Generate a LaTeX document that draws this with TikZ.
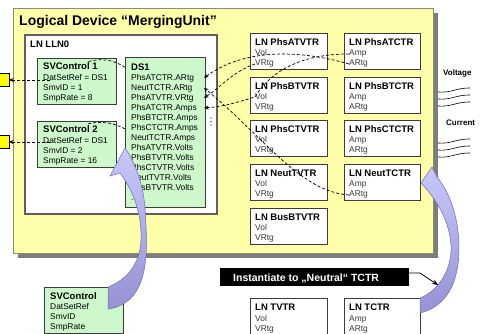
\documentclass[tikz,border=0pt]{standalone}
\usepackage{fontspec}
\setmainfont{Liberation Sans}
\usetikzlibrary{arrows.meta,calc}

\definecolor{devfill}{RGB}{255,255,170}
\definecolor{devedge}{RGB}{140,140,110}
\definecolor{devshadow}{RGB}{125,125,125}
\definecolor{cbgreen}{RGB}{204,248,204}
\definecolor{boxedge}{RGB}{60,60,60}
\definecolor{llnedge}{RGB}{95,95,95}
\definecolor{itemgrey}{RGB}{55,55,55}
\definecolor{lavtop}{RGB}{200,200,252}
\definecolor{lavbot}{RGB}{150,146,212}
\definecolor{lavedge}{RGB}{110,110,175}
\definecolor{sigyellow}{RGB}{255,255,0}

\newcommand\fTitle{\fontsize{14}{16}\selectfont\bfseries}
\newcommand\fHead{\fontsize{9.5}{11}\selectfont\bfseries}
\newcommand\fItem{\fontsize{8.4}{10}\selectfont}
\newcommand\fSmall{\fontsize{8}{9}\selectfont\bfseries}

\tikzset{
  ubox/.style={draw=boxedge, line width=0.9pt, anchor=north west, inner sep=0pt, outer sep=0pt},
  lnbox/.style={ubox, fill=white, minimum height=36pt},
  cbbox/.style={ubox, fill=cbgreen},
  headtxt/.style={anchor=base west, inner sep=0pt, font=\fHead},
  itemtxt/.style={anchor=base west, inner sep=0pt, font=\fItem, text=itemgrey},
  dstxt/.style={anchor=base west, inner sep=0pt, font=\fItem},
  dashconn/.style={draw=black, line width=0.7pt, dash pattern=on 3pt off 2pt},
  tipend/.style={-{Stealth[length=4.5pt,width=4pt]}},
  lavarrow/.style={draw=lavedge, line width=0.5pt, top color=lavtop, bottom color=lavbot},
}

% logical node box: name, x, y, width, title, first attribute, second attribute
\newcommand\lnnode[7]{%
  \node[lnbox, minimum width=#4] (#1) at (#2,#3) {};
  \node[headtxt] (#1-t) at ($(#1.north west)+(5,13)$) {#5};
  \node[itemtxt] (#1-a) at ($(#1.north west)+(5,23)$) {#6};
  \node[itemtxt] (#1-b) at ($(#1.north west)+(5,33)$) {#7};
}

% sampled value control block: name, x, y, title, three attribute lines
\newcommand\svnode[7]{%
  \node[cbbox, minimum width=79pt, minimum height=46pt] (#1) at (#2,#3) {};
  \node[headtxt] (#1-t) at ($(#1.north west)+(6,12)$) {#4};
  \node[dstxt] (#1-a) at ($(#1.north west)+(6,22.5)$) {#5};
  \node[dstxt] (#1-b) at ($(#1.north west)+(6,32.5)$) {#6};
  \node[dstxt] (#1-c) at ($(#1.north west)+(6,42.5)$) {#7};
}

\begin{document}
\begin{tikzpicture}[x=1pt,y=-1pt]
\useasboundingbox (0,0) rectangle (480,334);

% logical device frame with drop shadow
\fill[devshadow] (18,13) rectangle (438,258);
\node[ubox, draw=devedge, line width=0.6pt, fill=devfill, minimum width=420pt, minimum height=245pt] (ld) at (13,8) {};
\node[anchor=base west, inner sep=0pt, font=\fTitle] (ld-t) at (19,26) {Logical Device “MergingUnit”};

% LLN0 with its control blocks and data set
\node[ubox, draw=llnedge, line width=1.3pt, fill=white, minimum width=192pt, minimum height=179pt] (lln0) at (25,35) {};
\node[headtxt] (lln0-t) at (30,47.5) {LN LLN0};

\svnode{sv1}{37}{58}{SVControl 1}{DatSetRef = DS1}{SmvID = 1}{SmpRate = 8}
\svnode{sv2}{37}{121}{SVControl 2}{DatSetRef = DS1}{SmvID = 2}{SmpRate = 16}

\node[cbbox, minimum width=80pt, minimum height=150pt] (ds1) at (125,57) {};
\node[headtxt] (ds1-t) at ($(ds1.north west)+(6,13.5)$) {DS1};
\foreach \txt [count=\i] in {PhsATCTR.ARtg, NeutTCTR.ARtg, PhsATVTR.VRtg, PhsATCTR.Amps,
  PhsBTCTR.Amps, PhsCTCTR.Amps, NeutTCTR.Amps, PhsATVTR.Volts, PhsBTVTR.Volts,
  PhsCTVTR.Volts, NeutTVTR.Volts, BusBTVTR.Volts}
  \node[dstxt] (ds-r\i) at ($(ds1.north west)+(6,14+10*\i)$) {\txt};
\node[dstxt] (ds-more) at ($(ds1.north west)+(6,144)$) {...};

% vertical ellipsis beside the data set
\fill (211,118) circle[radius=0.7pt];
\fill (211,121.5) circle[radius=0.7pt];
\fill (211,125) circle[radius=0.7pt];

% voltage and current transformer nodes
\lnnode{va}{250}{33}{77pt}{LN PhsATVTR}{Vol}{VRtg}
\lnnode{vb}{250}{77}{77pt}{LN PhsBTVTR}{Vol}{VRtg}
\lnnode{vc}{250}{120}{77pt}{LN PhsCTVTR}{Vol}{VRtg}
\lnnode{vn}{250}{164}{77pt}{LN NeutTVTR}{Vol}{VRtg}
\lnnode{vbus}{250}{208}{77pt}{LN BusBTVTR}{Vol}{VRtg}
\lnnode{ca}{344}{33}{76pt}{LN PhsATCTR}{Amp}{ARtg}
\lnnode{cb}{344}{77}{76pt}{LN PhsBTCTR}{Amp}{ARtg}
\lnnode{cc}{344}{120}{76pt}{LN PhsCTCTR}{Amp}{ARtg}
\lnnode{cn}{344}{164}{76pt}{LN NeutTCTR}{Amp}{ARtg}

% outgoing sampled value streams
\node[ubox, draw=black, line width=0.8pt, fill=sigyellow, minimum width=14pt, minimum height=13pt] (yb1) at (-5,73.5) {};
\node[ubox, draw=black, line width=0.8pt, fill=sigyellow, minimum width=14pt, minimum height=13pt] (yb2) at (-5,135.5) {};
\coordinate (sv1-out) at (50,80);
\coordinate (sv2-out) at (50,142);
\draw[dashconn, tipend] (sv1-out) -- (yb1.east);
\draw[dashconn, tipend] (sv2-out) -- (yb2.east);

% data set references of the control blocks
\coordinate (sv1-hook) at (87,62);
\coordinate (sv2-hook) at (87,124);
\draw[dashconn] (ds1.west |- ds1-t.center) .. controls (112,59) and (100,58) .. (sv1-hook);
\draw[dashconn] (ds1.west |- ds-r6.center) .. controls (112,122) and (100,121) .. (sv2-hook);

% data set members and their sources
\coordinate (ds-in1) at ($(ds1.east |- ds-r1.center)+(-1,-1)$);
\coordinate (ds-in2) at ($(ds1.east |- ds-r2.center)+(-1,-1)$);
\coordinate (ds-in3) at ($(ds1.east |- ds-r3.center)+(-1,-1)$);
\coordinate (ds-in4) at ($(ds1.east |- ds-r4.center)+(-1,-1)$);
\draw[dashconn, tipend] (ca-b.west) .. controls (300,50) and (245,48) .. (ds-in1);
\draw[dashconn, tipend] (cn-b.west) .. controls (300,192) and (262,135) .. (ds-in2);
\draw[dashconn, tipend] (va-b.west) .. controls (232,72) and (220,88) .. (ds-in3);
\draw[dashconn, tipend] (ca-a.west) .. controls (300,54) and (270,72) .. (vb-a.west)
  .. controls (235,103) and (222,107) .. (ds-in4);

% measured quantities entering the device
\node[anchor=base west, inner sep=0pt, font=\fSmall] (volt) at (443,76) {Voltage};
\node[anchor=base west, inner sep=0pt, font=\fSmall] (curr) at (446,126) {Current};
\foreach \yy in {90,97,104,141,148,155}
  \draw[line width=0.6pt] (438,\yy+2) .. controls (452,\yy+3) and (455,\yy-2) .. (470,\yy-2);

% generic classes below the device
\svnode{svg}{44}{287}{SVControl}{DatSetRef}{SmvID}{SmpRate}
\lnnode{tv}{250}{298}{77pt}{LN TVTR}{Vol}{VRtg}
\lnnode{tc}{344}{298}{76pt}{LN TCTR}{Amp}{ARtg}

% instantiation arrows
\path[lavarrow] (125,148)
  .. controls (134,161) and (143,182) .. (145,208)
  .. controls (147,240) and (150,280) .. (130,299)
  .. controls (123,305) and (116,308) .. (108,309)
  -- (108,287)
  .. controls (126,280) and (140,265) .. (141,240)
  .. controls (142,214) and (133,190) .. (120,173)
  -- (110,176) -- cycle;
\path[lavarrow] (421,183) -- (432,167) -- (437,177)
  .. controls (448,190) and (459,215) .. (459,248)
  .. controls (459,285) and (445,307) .. (420,313)
  -- (420,298)
  .. controls (440,290) and (452,268) .. (451,246)
  .. controls (450,225) and (440,203) .. (421,183)
  -- cycle;

% instantiation note
\node[ubox, draw=black, fill=black, minimum width=188pt, minimum height=17pt] (inst) at (220,268) {};
\node[anchor=base west, inner sep=0pt, font=\fontsize{10.5}{12}\selectfont\bfseries, text=white] (inst-t) at (233,281.5) {Instantiate to „Neutral“ TCTR};
\coordinate (inst-tip) at (438,285);
\draw[line width=0.8pt, -{Stealth[length=6pt,width=5pt]}] ($(inst.north east)+(0,5)$) -- ++(12,0) -- (inst-tip);
\end{tikzpicture}
\end{document}
